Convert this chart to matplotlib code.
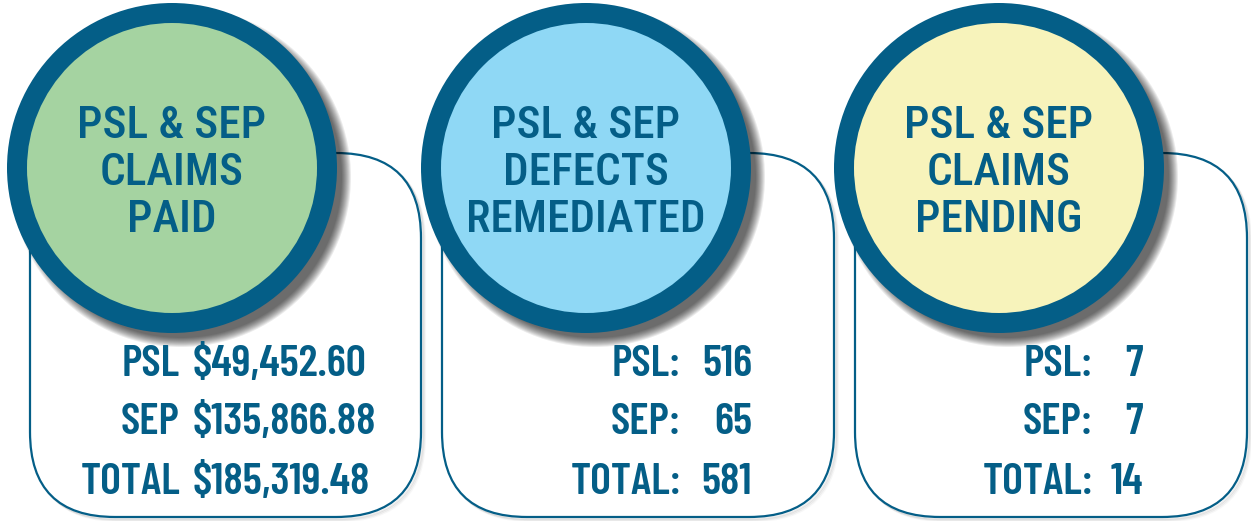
import matplotlib
matplotlib.use("Agg")
import matplotlib.pyplot as plt
from matplotlib.patches import Circle, FancyBboxPatch

# ---- data ----
titles = ["PSL & SEP\nCLAIMS\nPAID",
          "PSL & SEP\nDEFECTS\nREMEDIATED",
          "PSL & SEP\nCLAIMS\nPENDING"]
labels_paid = ["PSL", "SEP", "TOTAL"]
values_paid = ["$49,452.60", "$135,866.88", "$185,319.48"]
labels_remediated = ["PSL:", "SEP:", "TOTAL:"]
values_remediated = [516, 65, 581]
labels_pending = ["PSL:", "SEP:", "TOTAL:"]
values_pending = [7, 7, 14]
fill_colors = ["#A5D3A1", "#8FD8F5", "#F7F3BB"]

# ---- style ----
DARK = "#045E87"
TFONT = dict(family=["Roboto Condensed", "Fira Sans Condensed", "Liberation Sans"],
             weight="medium")
RFONT = dict(family=["Barlow Condensed", "Roboto Condensed", "Liberation Sans"],
             weight="semibold")

W, H = 1251, 521
fig = plt.figure(figsize=(W / 100, H / 100), dpi=100)
ax = fig.add_axes([0, 0, 1, 1])
ax.set_xlim(0, W)
ax.set_ylim(H, 0)
ax.set_aspect("equal")
ax.axis("off")

circle_cx = [172, 586, 999]
circle_cy = 168
R_out, R_in = 165, 145
boxes = [(30, 153, 421, 517), (442, 153, 834, 517), (855, 153, 1247, 517)]

panels = [
    (labels_paid, [str(v) for v in values_paid], "paid"),
    (labels_remediated, [str(v) for v in values_remediated], "num"),
    (labels_pending, [str(v) for v in values_pending], "num"),
]
row_y = [365, 422, 482]
label_x = [180, 681, 1093]
value_x = [193, 752, 1143]

for i in range(3):
    x0, y0, x1, y1 = boxes[i]
    for k, a in enumerate([0.07, 0.05, 0.03]):
        sh = FancyBboxPatch((x0 + 2 + k, y0 + 2 + k), x1 - x0, y1 - y0,
                            boxstyle="round,pad=0,rounding_size=85",
                            fc="none", ec="#000000", lw=1.6, alpha=a, zorder=1)
        ax.add_patch(sh)
    box = FancyBboxPatch((x0, y0), x1 - x0, y1 - y0,
                         boxstyle="round,pad=0,rounding_size=85",
                         fc="white", ec=DARK, lw=1.6, zorder=2)
    ax.add_patch(box)

    cx = circle_cx[i]
    for k in range(10):
        r = R_out + 5 - k
        ax.add_patch(Circle((cx + 9, circle_cy + 9), r, fc="#000000",
                            ec="none", alpha=0.08, zorder=3))
    ax.add_patch(Circle((cx, circle_cy), R_out, fc=DARK, ec="none", zorder=4))
    ax.add_patch(Circle((cx, circle_cy), R_in, fc=fill_colors[i], ec="none", zorder=5))
    ax.text(cx, circle_cy + 5, titles[i], ha="center", va="center",
            fontsize=32.5, color=DARK, linespacing=1.16, zorder=6, **TFONT)

    labs, vals, kind = panels[i]
    for j in range(3):
        ax.text(label_x[i], row_y[j], labs[j], ha="right", va="center",
                fontsize=32, color=DARK, zorder=6, **RFONT)
        ax.text(value_x[i], row_y[j], vals[j],
                ha="left" if kind == "paid" else "right", va="center",
                fontsize=32, color=DARK, zorder=6, **RFONT)

fig.savefig("out.png", dpi=100, facecolor="white")
